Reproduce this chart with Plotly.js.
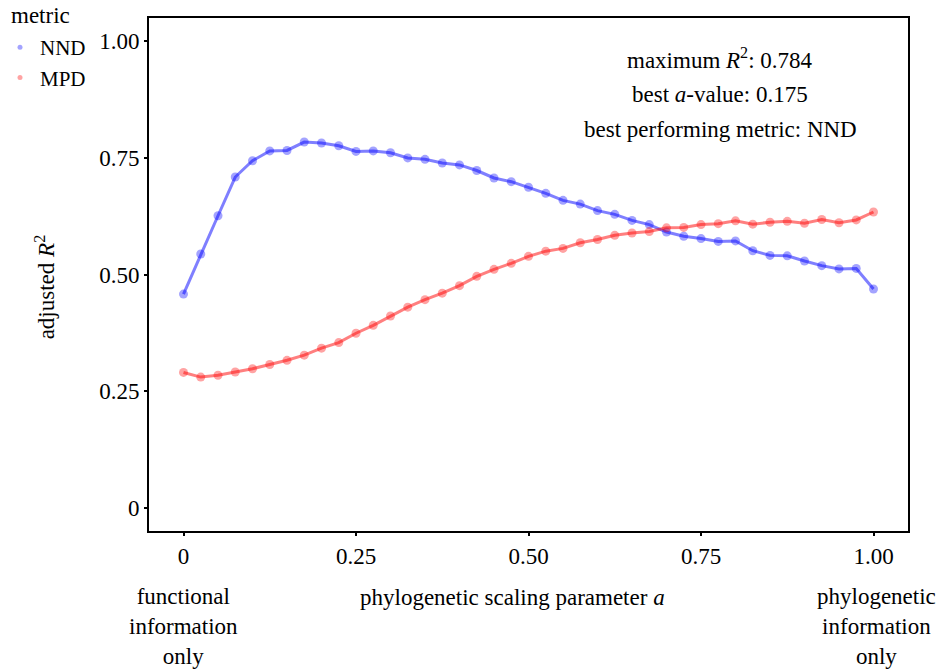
<!DOCTYPE html>
<html>
<head>
<meta charset="utf-8">
<script src="https://cdn.plot.ly/plotly-3.0.1.min.js"></script>
<style>html,body{margin:0;padding:0;background:#fff;}#chart{width:939px;height:669px;}</style>
</head>
<body>
<div id="chart"></div>
<script>
// phylogenetic scaling parameter a
const aValues = [0, 0.025, 0.05, 0.075, 0.1, 0.125, 0.15, 0.175, 0.2, 0.225, 0.25, 0.275, 0.3, 0.325, 0.35, 0.375, 0.4, 0.425, 0.45, 0.475, 0.5, 0.525, 0.55, 0.575, 0.6, 0.625, 0.65, 0.675, 0.7, 0.725, 0.75, 0.775, 0.8, 0.825, 0.85, 0.875, 0.9, 0.925, 0.95, 0.975, 1.0];
// adjusted R^2 for NND
const nnd = [0.458, 0.544, 0.626, 0.709, 0.744, 0.765, 0.766, 0.784, 0.782, 0.776, 0.764, 0.765, 0.761, 0.750, 0.747, 0.739, 0.735, 0.723, 0.707, 0.699, 0.687, 0.674, 0.659, 0.651, 0.637, 0.629, 0.616, 0.607, 0.591, 0.582, 0.577, 0.571, 0.572, 0.551, 0.541, 0.540, 0.529, 0.519, 0.512, 0.513, 0.469];
// adjusted R^2 for MPD
const mpd = [0.290, 0.280, 0.284, 0.291, 0.298, 0.307, 0.316, 0.327, 0.342, 0.354, 0.374, 0.391, 0.411, 0.430, 0.446, 0.460, 0.476, 0.496, 0.511, 0.524, 0.539, 0.550, 0.556, 0.568, 0.575, 0.584, 0.589, 0.592, 0.600, 0.601, 0.607, 0.609, 0.615, 0.608, 0.612, 0.614, 0.610, 0.618, 0.611, 0.617, 0.634];
const metricNames = ['NND', 'MPD'];
const xTickVals = [0, 0.25, 0.5, 0.75, 1.0];
const xTickText = ['0', '0.25', '0.50', '0.75', '1.00'];
const yTickVals = [0, 0.25, 0.5, 0.75, 1.0];
const yTickText = ['0', '0.25', '0.50', '0.75', '1.00'];

const FONT = 'Liberation Serif, Times New Roman, serif';
const FS = 23;
const blueLine = 'rgba(0,0,255,0.5)', blueMk = 'rgba(0,0,255,0.36)';
const redLine = 'rgba(255,0,0,0.5)', redMk = 'rgba(255,0,0,0.36)';

function series(y, name, lc, mc) {
  return [
    {x: aValues, y: y, mode: 'lines', type: 'scatter', name: name, showlegend: false,
     line: {color: lc, width: 3}, hoverinfo: 'skip'},
    {x: aValues, y: y, mode: 'markers', type: 'scatter', name: name, showlegend: false,
     marker: {color: mc, size: 9}},
    {x: [null], y: [null], mode: 'markers', type: 'scatter', name: name, showlegend: true,
     marker: {color: mc, size: 5}}
  ];
}

const data = [].concat(
  series(nnd, metricNames[0], blueLine, blueMk),
  series(mpd, metricNames[1], redLine, redMk)
);

const txt = (text, x, y, xref, yref, extra) => Object.assign({
  text: text, x: x, y: y, xref: xref, yref: yref, showarrow: false,
  font: {family: FONT, size: FS, color: '#000'}, xanchor: 'center', yanchor: 'middle'
}, extra || {});

const layout = {
  width: 939, height: 669,
  margin: {l: 149, r: 31, t: 18, b: 138},
  paper_bgcolor: '#fff', plot_bgcolor: '#fff',
  font: {family: FONT, size: FS, color: '#000'},
  xaxis: {
    range: [-0.05, 1.05], tickvals: xTickVals, ticktext: xTickText,
    showgrid: false, zeroline: false, showline: true, linecolor: '#000', linewidth: 2, mirror: true,
    ticks: 'outside', ticklen: 3, tickwidth: 2, tickcolor: '#000',
    tickfont: {family: FONT, size: FS, color: '#000'}, fixedrange: true
  },
  yaxis: {
    range: [-0.05, 1.05], tickvals: yTickVals, ticktext: yTickText,
    showgrid: false, zeroline: false, showline: true, linecolor: '#000', linewidth: 2, mirror: true,
    ticks: 'outside', ticklen: 3, tickwidth: 2, tickcolor: '#000',
    tickfont: {family: FONT, size: FS, color: '#000'}, fixedrange: true
  },
  legend: {
    xref: 'container', yref: 'container', x: 0, y: 1 - 27 / 669, xanchor: 'left', yanchor: 'top',
    font: {family: FONT, size: 21, color: '#000'},
    bgcolor: 'rgba(0,0,0,0)', itemwidth: 30, tracegroupgap: 0
  },
  showlegend: true,
  annotations: [
    txt('metric', -0.185, 1 + 2 / 513, 'paper', 'paper', {xanchor: 'left', font: {family: FONT, size: 23, color: '#000'}}),
    txt('maximum <i>R</i><sup>2</sup>: 0.784', 0.778, 0.922, 'x', 'paper'),
    txt('best <i>a</i>-value: 0.175', 0.778, 0.850, 'x', 'paper'),
    txt('best performing metric: NND', 0.778, 0.782, 'x', 'paper'),
    txt('adjusted <i>R</i><sup>2</sup>', -0.137, 0.475, 'paper', 'paper', {textangle: -90}),
    txt('phylogenetic scaling parameter <i>a</i>', 0.477, -0.13, 'x', 'paper'),
    txt('functional<br>information<br>only', 0, -0.187, 'x', 'paper'),
    txt('phylogenetic<br>information<br>only', 1.004, -0.187, 'x', 'paper')
  ]
};

Plotly.newPlot('chart', data, layout, {displayModeBar: false, staticPlot: true});
</script>
</body>
</html>
